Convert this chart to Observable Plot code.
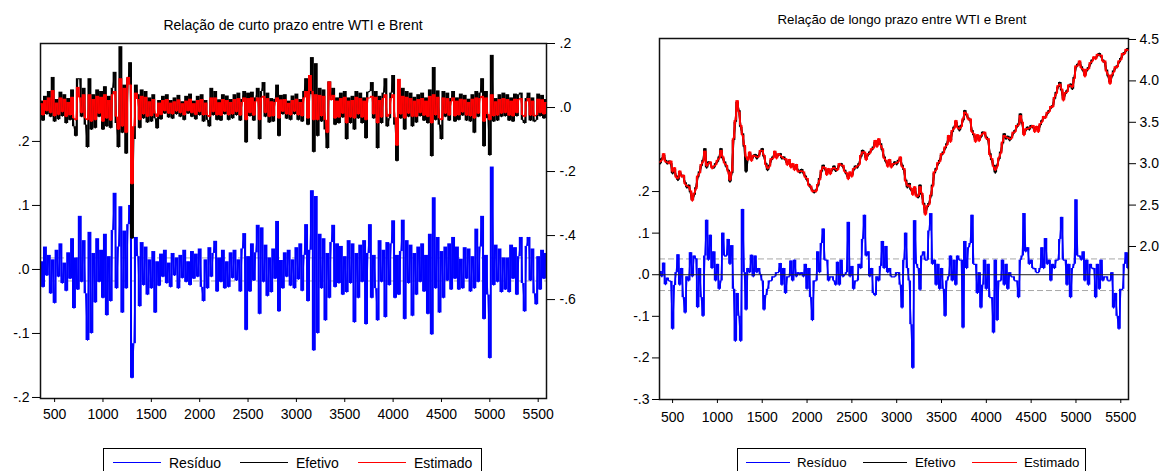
<!DOCTYPE html>
<html><head><meta charset="utf-8">
<script src="https://cdn.jsdelivr.net/npm/d3@7"></script>
<script src="https://cdn.jsdelivr.net/npm/@observablehq/plot@0.6"></script>
<style>
html,body{margin:0;padding:0;background:#fff;}
body{width:1162px;height:471px;overflow:hidden;position:relative;font-family:"Liberation Sans",Arial,sans-serif;color:#000;}
.title{position:absolute;white-space:nowrap;line-height:1;transform:translateX(-50%);}
.legend{position:absolute;border:1px solid #000;height:40px;box-sizing:border-box;background:#fff;}
.lgl{position:absolute;height:0;border-top:1.6px solid;}
.lgt{position:absolute;line-height:1;white-space:nowrap;}
svg{position:absolute;}
</style></head><body>
<script>
// ---------- DATA ----------
const obsStart = 360, obsStep = 20;          // observation index of first value and spacing
const xTicks = [500,1000,1500,2000,2500,3000,3500,4000,4500,5000,5500];
const xDomain = [354, 5586];

// Short-run panel
const shortTitle = "Relação de curto prazo entre WTI e Brent";
const shortResidTicks = [-0.2,-0.1,0,0.1,0.2];
const shortLevelTicks = [0.2,0,-0.2,-0.4,-0.6];
const shortBands = [-0.018, 0.018];
const shortResid = [
0.012,-0.028,0.035,-0.01,0.022,-0.038,0.015,-0.053,0.03,-0.012,0.04,-0.022,0.01,-0.034,0.026,-0.015,0.048,-0.061,0.018,-0.032,
0.083,-0.02,0.045,-0.038,-0.111,0.058,-0.10,0.025,-0.052,0.048,-0.02,0.03,-0.045,0.055,-0.072,0.02,-0.05,0.061,0.119,-0.03,
0.035,0.098,-0.068,0.06,-0.03,0.07,0.10,-0.170,-0.116,0.05,0.02,-0.058,0.042,-0.025,0.035,-0.04,0.015,-0.03,0.028,-0.068,
0.012,-0.026,0.024,-0.012,0.03,-0.022,0.01,-0.028,0.025,-0.01,0.018,-0.03,0.022,-0.014,0.03,-0.02,0.012,-0.025,0.028,-0.015,
0.024,-0.012,0.032,-0.028,-0.05,0.015,-0.03,0.034,-0.012,0.025,0.044,-0.035,0.018,-0.02,0.03,-0.03,0.012,-0.028,0.026,-0.014,
0.03,-0.018,0.015,-0.035,0.032,0.056,-0.095,0.02,-0.035,0.04,-0.018,0.026,0.069,-0.07,0.065,-0.02,0.038,-0.042,0.018,-0.036,
0.032,-0.015,0.075,-0.066,0.014,-0.03,0.026,-0.012,0.03,-0.026,0.015,-0.03,0.034,-0.016,0.04,-0.034,0.022,0.07,-0.05,0.03,
0.123,-0.127,0.114,-0.10,0.055,-0.03,0.048,-0.08,0.025,-0.045,0.042,0.069,-0.028,0.04,-0.022,0.036,-0.04,0.02,-0.036,0.045,
-0.022,0.04,-0.083,0.025,-0.045,0.038,-0.02,0.045,-0.086,0.025,0.07,-0.045,0.022,-0.03,-0.08,0.045,-0.02,0.03,-0.075,0.042,
-0.025,0.04,0.076,-0.045,0.022,-0.04,0.028,0.077,-0.078,0.045,-0.022,0.038,-0.073,0.025,-0.04,0.035,-0.02,0.04,-0.035,0.022,
-0.07,0.055,-0.102,0.112,-0.03,0.05,-0.068,0.028,-0.045,0.035,-0.018,0.04,-0.032,0.05,-0.015,0.035,-0.032,0.016,-0.03,0.034,
-0.015,0.032,-0.035,0.02,-0.03,0.063,-0.02,0.035,0.083,-0.078,0.022,-0.04,-0.139,0.16,-0.025,0.038,-0.02,0.032,-0.036,0.018,
-0.032,0.018,-0.036,0.038,-0.015,0.034,-0.04,0.02,0.05,-0.022,-0.066,0.036,0.05,-0.018,0.032,-0.038,-0.055,0.02,-0.032,0.03,-0.015,0.025];
const shortActual = [
0.02,-0.042,0.035,-0.022,0.05,-0.03,0.094,-0.045,0.025,-0.038,0.048,-0.028,0.04,-0.05,0.028,-0.04,0.055,-0.06,-0.09,0.09,
0.09,-0.03,0.06,-0.055,-0.125,0.09,-0.07,0.04,-0.065,0.055,-0.03,0.05,-0.07,0.065,-0.06,0.035,-0.065,0.06,0.11,-0.05,
-0.125,0.19,-0.08,0.07,-0.145,0.09,0.14,-0.41,-0.1,0.07,0.04,-0.065,0.055,-0.035,0.05,-0.048,0.03,-0.045,0.04,-0.035,
-0.066,0.022,-0.038,0.035,-0.02,0.04,-0.032,0.022,-0.036,0.03,-0.022,0.038,-0.03,0.018,-0.04,0.035,-0.02,0.042,-0.03,0.02,
-0.038,0.035,-0.025,0.04,-0.045,0.022,-0.04,-0.06,0.06,-0.025,0.05,-0.04,0.024,-0.042,0.04,-0.022,0.036,-0.04,0.025,-0.035,
0.04,-0.025,0.045,-0.042,0.025,0.05,-0.11,0.045,-0.028,0.048,-0.042,0.03,0.06,-0.1,0.05,0.078,-0.03,0.045,-0.048,0.028,
-0.045,0.025,0.07,-0.09,0.038,-0.022,0.04,-0.036,0.02,-0.04,0.036,-0.022,0.042,-0.04,0.025,-0.045,0.05,0.09,-0.055,0.04,
0.156,-0.14,0.137,-0.09,0.06,-0.045,0.055,-0.07,-0.128,0.08,0.035,0.06,-0.055,0.03,-0.05,0.045,-0.032,0.05,-0.1,0.03,
-0.05,0.035,-0.07,0.05,-0.035,0.045,-0.05,0.03,-0.097,0.048,0.05,0.078,-0.035,0.05,-0.128,0.035,-0.05,0.045,0.09,-0.06,
-0.035,0.045,0.1,-0.055,-0.168,0.055,-0.035,0.06,-0.07,0.05,-0.03,0.045,-0.06,0.032,-0.048,0.04,-0.028,0.045,-0.042,0.03,
-0.05,0.055,-0.153,0.125,-0.04,0.052,-0.055,-0.1,0.05,-0.03,0.045,-0.042,0.028,0.05,-0.045,0.03,-0.04,0.042,-0.026,0.038,
-0.042,0.026,-0.045,0.04,-0.08,0.05,-0.03,0.045,0.09,-0.122,0.05,-0.035,-0.15,0.163,-0.045,0.028,-0.042,0.04,-0.03,0.045,
-0.028,0.04,-0.042,0.03,-0.045,0.042,-0.028,0.04,0.045,-0.04,-0.05,0.028,0.045,-0.042,0.03,-0.045,-0.04,0.042,-0.028,0.038,-0.035,0.025];
const shortFitted = [
0.012,-0.025,0.022,-0.012,0.03,-0.018,0.053,-0.028,0.014,-0.024,0.03,-0.015,0.026,-0.03,0.016,-0.025,0.032,-0.035,-0.04,0.063,
0.03,-0.018,0.04,-0.035,-0.04,0.04,-0.045,0.025,-0.04,0.035,-0.02,0.032,-0.045,0.04,-0.035,0.022,-0.042,0.04,0.05,-0.03,
-0.07,0.09,-0.06,0.06,-0.08,0.094,0.07,-0.24,-0.06,0.045,0.025,-0.04,0.035,-0.022,0.032,-0.03,0.018,-0.028,0.025,-0.02,
-0.03,0.014,-0.024,0.022,-0.012,0.025,-0.02,0.014,-0.022,0.018,-0.013,0.024,-0.018,0.012,-0.025,0.02,-0.012,0.026,-0.018,0.012,
-0.024,0.022,-0.015,0.025,-0.025,0.014,-0.025,-0.03,0.03,-0.015,0.03,-0.025,0.015,-0.026,0.025,-0.014,0.022,-0.025,0.016,-0.022,
0.025,-0.015,0.028,-0.026,0.016,0.03,-0.04,0.028,-0.018,0.03,-0.026,0.018,0.03,-0.04,0.03,0.035,-0.018,0.028,-0.03,0.018,
-0.028,0.016,0.03,-0.035,0.024,-0.014,0.025,-0.022,0.013,-0.025,0.022,-0.014,0.026,-0.025,0.016,-0.028,0.03,0.05,-0.035,0.10,
0.05,-0.04,0.04,-0.04,0.038,-0.028,0.035,-0.04,-0.08,0.08,0.022,0.038,-0.035,0.02,-0.032,0.028,-0.02,0.032,-0.05,0.02,
-0.032,0.022,-0.035,0.032,-0.022,0.028,-0.032,0.02,-0.04,0.03,0.03,0.035,-0.022,0.032,-0.05,0.022,-0.032,0.028,0.04,-0.03,
-0.022,0.028,0.04,-0.032,-0.12,0.088,-0.022,0.035,-0.035,0.032,-0.02,0.028,-0.03,0.02,-0.03,0.025,-0.018,0.028,-0.026,0.02,
-0.03,0.035,-0.05,0.04,-0.025,0.032,-0.035,-0.04,0.03,-0.02,0.028,-0.026,0.018,0.03,-0.028,0.02,-0.025,0.026,-0.016,0.024,
-0.026,0.016,-0.028,0.026,-0.035,0.03,-0.02,0.028,0.035,-0.045,0.03,-0.022,-0.04,0.04,-0.028,0.018,-0.026,0.025,-0.02,0.028,
-0.018,0.025,-0.026,0.02,-0.028,0.026,-0.018,0.025,0.028,-0.025,-0.03,0.018,0.028,-0.026,0.02,-0.028,-0.025,0.026,-0.018,0.024,-0.022,0.016];

// Long-run panel
const longTitle = "Relação de longo prazo entre WTI e Brent";
const longResidTicks = [-0.3,-0.2,-0.1,0,0.1,0.2];
const longLevelTicks = [2.0,2.5,3.0,3.5,4.0,4.5];
const longBands = [-0.038, 0.038];
const longResid = [
0.008,-0.005,0.028,-0.024,-0.008,-0.015,-0.016,-0.131,-0.026,0.005,0.048,-0.025,0.015,-0.055,-0.092,-0.005,-0.015,0.053,-0.005,0.045,
0.038,-0.079,0.015,-0.055,-0.1,0.045,0.131,0.035,0.095,0.015,0.055,-0.015,0.025,-0.035,-0.015,0.1,0.045,0.045,0.085,0.025,
0.07,-0.035,-0.16,-0.045,-0.1,-0.16,0.157,0.005,-0.085,0.015,0.005,0.047,-0.005,0.045,0.005,0.015,0.0,-0.015,-0.085,-0.05,
-0.035,-0.015,-0.015,-0.005,-0.005,0.005,0.005,0.027,-0.025,0.015,-0.045,-0.005,-0.005,0.033,-0.015,0.035,-0.005,0.005,0.0,0.005,
-0.005,0.025,-0.035,0.015,-0.055,-0.11,-0.015,-0.015,0.055,0.005,0.075,0.11,0.035,0.035,-0.015,-0.005,-0.005,-0.015,-0.025,0.03,
-0.025,0.035,-0.005,0.0,0.005,0.126,-0.005,0.02,-0.035,-0.015,-0.015,0.025,0.015,0.085,0.143,0.045,0.055,-0.005,0.015,-0.045,
-0.05,-0.005,-0.015,0.02,0.08,0.015,0.068,0.005,0.015,-0.005,-0.005,-0.005,0.005,0.005,-0.025,-0.08,0.035,0.1,0.015,-0.015,
-0.12,-0.225,0.13,0.025,0.015,-0.037,0.045,0.055,0.035,0.035,0.105,0.147,0.025,0.035,-0.025,0.025,-0.035,0.015,-0.035,-0.1,
-0.015,-0.005,0.045,-0.015,0.035,-0.025,0.045,0.035,0.035,-0.128,0.08,0.015,0.065,0.075,0.143,0.025,0.025,-0.045,0.005,-0.08,
-0.025,0.035,-0.035,0.025,-0.055,-0.055,-0.14,0.035,-0.11,-0.015,-0.015,0.035,-0.025,0.025,-0.035,0.005,-0.005,-0.005,-0.015,-0.015,
-0.055,0.035,0.045,0.147,0.055,0.065,0.025,0.035,0.015,0.015,0.005,0.005,0.015,0.065,0.015,0.087,0.025,0.035,-0.015,0.025,
0.015,0.035,0.035,0.085,0.138,0.035,0.035,-0.025,0.025,-0.055,0.015,0.025,0.18,0.045,0.045,0.035,0.055,-0.015,0.035,-0.025,
0.025,0.015,0.015,-0.055,0.025,-0.035,0.035,-0.015,-0.005,-0.005,-0.015,-0.015,0.005,-0.08,-0.045,-0.1,-0.131,-0.035,-0.035,0.025,0.053,0.015];
const longActual = [
3.00,3.06,3.10,3.04,3.00,3.03,3.00,2.88,2.93,2.85,2.80,2.89,2.86,2.84,2.77,2.71,2.74,2.65,2.56,2.62,
2.71,2.83,2.90,2.97,3.04,3.18,2.95,3.02,3.00,2.96,2.95,3.00,3.02,3.08,3.18,3.06,3.02,2.96,2.92,2.78,
2.88,3.28,3.50,3.74,3.64,3.44,3.36,3.20,2.90,3.06,3.12,3.05,3.08,3.11,3.06,3.10,3.14,3.18,3.08,3.00,
2.92,2.98,3.04,3.08,3.13,3.08,3.10,3.12,3.06,3.08,3.04,3.00,3.03,2.97,2.98,2.94,2.97,2.92,2.89,2.93,
2.88,2.85,2.80,2.75,2.71,2.68,2.65,2.68,2.73,2.82,2.90,2.98,2.93,2.88,2.92,2.89,2.92,2.97,2.91,2.94,
2.98,3.00,2.96,2.92,2.87,2.83,2.88,2.86,2.92,2.97,2.95,3.00,3.08,3.16,3.12,3.06,3.10,3.14,3.16,3.20,
3.26,3.22,3.28,3.24,3.16,3.08,3.02,2.98,3.03,2.97,2.98,3.02,2.99,3.04,3.06,2.98,2.92,2.80,2.71,2.76,
2.68,2.64,2.70,2.62,2.59,2.74,2.62,2.52,2.40,2.47,2.52,2.60,2.74,2.88,2.94,2.99,3.04,3.10,3.14,3.18,
3.24,3.32,3.28,3.38,3.44,3.50,3.45,3.40,3.46,3.52,3.64,3.58,3.55,3.52,3.40,3.34,3.28,3.33,3.29,3.32,
3.38,3.36,3.32,3.28,3.12,3.04,2.98,2.89,2.98,3.05,3.14,3.24,3.36,3.30,3.33,3.28,3.32,3.36,3.40,3.44,
3.48,3.60,3.48,3.36,3.40,3.44,3.41,3.46,3.44,3.40,3.43,3.40,3.46,3.52,3.55,3.57,3.60,3.64,3.67,3.70,
3.78,3.86,3.92,3.98,3.88,3.78,3.84,3.88,3.93,3.96,3.90,4.04,4.16,4.20,4.22,4.17,4.12,4.07,4.12,4.16,
4.20,4.25,4.27,4.28,4.30,4.33,4.29,4.25,4.22,4.13,4.05,3.98,4.05,4.12,4.15,4.18,4.22,4.27,4.31,4.34,4.36,4.39];
const longFitted = [
3.02,3.04,3.12,3.02,3.02,3.00,3.03,2.90,2.95,2.83,2.82,2.91,2.84,2.86,2.75,2.73,2.72,2.67,2.55,2.64,
2.69,2.85,2.88,2.99,3.02,3.15,2.97,3.00,3.02,2.94,2.97,2.98,3.04,3.06,3.16,3.08,3.00,2.98,2.90,2.80,
2.90,3.30,3.52,3.76,3.62,3.46,3.34,3.22,3.08,3.04,3.14,3.03,3.10,3.09,3.08,3.08,3.16,3.16,3.10,2.98,
2.94,2.96,3.06,3.06,3.15,3.06,3.12,3.10,3.08,3.06,3.06,2.98,3.05,2.95,3.00,2.92,2.99,2.90,2.91,2.91,
2.90,2.83,2.82,2.73,2.73,2.66,2.67,2.66,2.75,2.80,2.92,2.96,2.95,2.86,2.94,2.87,2.94,2.95,2.93,2.92,
3.00,2.98,2.98,2.90,2.89,2.81,2.90,2.84,2.94,2.95,2.97,2.98,3.10,3.14,3.14,3.04,3.12,3.12,3.18,3.18,
3.28,3.20,3.30,3.22,3.18,3.06,3.04,2.96,3.05,2.95,3.00,3.00,3.01,3.02,3.08,2.96,2.94,2.78,2.73,2.74,
2.70,2.62,2.72,2.60,2.61,2.72,2.64,2.50,2.38,2.49,2.50,2.62,2.72,2.90,2.92,3.01,3.02,3.12,3.12,3.20,
3.22,3.34,3.26,3.40,3.42,3.52,3.43,3.42,3.44,3.54,3.62,3.60,3.53,3.54,3.38,3.36,3.26,3.35,3.27,3.34,
3.36,3.38,3.30,3.30,3.10,3.06,2.96,2.92,2.96,3.07,3.12,3.26,3.34,3.32,3.31,3.30,3.30,3.38,3.38,3.46,
3.46,3.58,3.50,3.34,3.42,3.42,3.43,3.44,3.46,3.38,3.45,3.38,3.48,3.50,3.57,3.55,3.62,3.62,3.69,3.68,
3.80,3.84,3.94,3.96,3.90,3.76,3.86,3.86,3.95,3.94,3.92,4.02,4.18,4.18,4.24,4.15,4.14,4.05,4.14,4.14,
4.22,4.23,4.29,4.26,4.32,4.31,4.31,4.23,4.24,4.11,4.07,3.96,4.07,4.10,4.17,4.16,4.24,4.25,4.33,4.32,4.38,4.37];

const legendLabels = ["Resíduo", "Efetivo", "Estimado"];
const seriesColors = ["#0000ff", "#000000", "#ff0000"];

// ---------- HELPERS ----------
const obsOf = arr => arr.map((_, i) => obsStart + i * obsStep);
const fmtDot = v => { const s = (Math.round(v * 10) / 10).toFixed(1); return s.replace(/^(-?)0\./, "$1."); };
const fmt1 = d3.format(".1f");
const FONT = '"Liberation Sans", Arial, sans-serif';

function place(svg, left, top) {
  svg.style.left = left + "px"; svg.style.top = top + "px";
  document.body.appendChild(svg);
}
// a dense series: the line itself plus the vertical span covered between consecutive observations
function dense(arr, color, w, lw = 1) {
  const obs = obsOf(arr);
  const idx = arr.slice(0, -1).map((_, i) => i);
  return [
    Plot.ruleX(idx, {x: i => (obs[i] + obs[i + 1]) / 2, y1: i => arr[i], y2: i => arr[i + 1], stroke: color, strokeWidth: w}),
    Plot.line(arr, {x: obs, y: arr, stroke: color, strokeWidth: lw})
  ];
}

// ---------- SHORT-RUN PANEL ----------
const sW = 600, sH = 440;
const sMargins = {marginLeft: 40, marginRight: 54, marginTop: 43, marginBottom: 42};
place(Plot.plot({
  width: sW, height: sH, ...sMargins,
  style: {fontSize: "14px", fontFamily: FONT, color: "#000", background: "transparent", overflow: "visible"},
  x: {domain: xDomain, axis: null}, y: {domain: [-0.2016, 0.353], axis: null},
  marks: [
    Plot.ruleY(shortBands, {stroke: "#a8a8a8", strokeDasharray: "6,3"}),
    dense(shortResid, seriesColors[0], 2),
    Plot.frame({stroke: "#111", strokeWidth: 1.5}),
    Plot.axisY({ticks: shortResidTicks, tickFormat: fmtDot, tickSize: 8, tickPadding: 3, label: null}),
    Plot.axisX({ticks: xTicks, tickFormat: d => String(d), tickSize: 4, tickPadding: 7, label: null})
  ]
}), 0, 0);
place(Plot.plot({
  width: sW, height: sH, ...sMargins,
  style: {fontSize: "14px", fontFamily: FONT, color: "#000", background: "transparent", overflow: "visible"},
  x: {domain: xDomain, axis: null}, y: {domain: [-0.909, 0.2], axis: null},
  marks: [
    dense(shortActual, seriesColors[1], 2),
    dense(shortFitted, seriesColors[2], 2),
    Plot.axisY({anchor: "right", ticks: shortLevelTicks, tickFormat: fmtDot, tickSize: 8, tickPadding: 5, label: null})
  ]
}), 0, 0);

// ---------- LONG-RUN PANEL ----------
const lW = 562, lH = 440, lLeft = 600;
const lMargins = {marginLeft: 59, marginRight: 34, marginTop: 38, marginBottom: 41};
place(Plot.plot({
  width: lW, height: lH, ...lMargins,
  style: {fontSize: "14px", fontFamily: FONT, color: "#000", background: "transparent", overflow: "visible"},
  x: {domain: xDomain, axis: null}, y: {domain: [-0.3, 0.568], axis: null},
  marks: [
    Plot.ruleY(longBands, {stroke: "#a8a8a8", strokeDasharray: "6,3"}),
    dense(longResid, seriesColors[0], 1.8, 1.3),
    Plot.ruleY([0], {stroke: "#222", strokeWidth: 1}),
    Plot.frame({stroke: "#111", strokeWidth: 1.5}),
    Plot.axisY({ticks: longResidTicks, tickFormat: fmtDot, tickSize: 7, tickPadding: 3, label: null}),
    Plot.axisX({ticks: xTicks, tickFormat: d => String(d), tickSize: 4, tickPadding: 9, label: null})
  ]
}), lLeft, 0);
place(Plot.plot({
  width: lW, height: lH, ...lMargins,
  style: {fontSize: "14px", fontFamily: FONT, color: "#000", background: "transparent", overflow: "visible"},
  x: {domain: xDomain, axis: null}, y: {domain: [0.152, 4.512], axis: null},
  marks: [
    dense(longActual, seriesColors[1], 1.8, 1.8),
    dense(longFitted, seriesColors[2], 1.8, 1.6),
    Plot.axisY({anchor: "right", ticks: longLevelTicks, tickFormat: fmt1, tickSize: 7, tickPadding: 4, label: null})
  ]
}), lLeft, 0);

// ---------- TITLES & LEGENDS ----------
function addDiv(cls, css, text) {
  const d = document.createElement("div");
  d.className = cls; Object.assign(d.style, css);
  if (text != null) d.textContent = text;
  document.body.appendChild(d);
  return d;
}
addDiv("title", {left: "293px", top: "18px", fontSize: "14px"}, shortTitle);
addDiv("title", {left: "902px", top: "13px", fontSize: "13.3px"}, longTitle);

function legend(box, items, fs, textTop) {
  addDiv("legend", {left: box.left + "px", top: box.top + "px", width: box.width + "px"});
  items.forEach((it, k) => {
    addDiv("lgl", {left: it.x0 + "px", top: it.y + "px", width: (it.x1 - it.x0) + "px", borderTopColor: seriesColors[k]});
    addDiv("lgt", {left: it.tx + "px", top: textTop + "px", fontSize: fs}, legendLabels[k]);
  });
}
legend({left: 103, top: 448, width: 379},
  [{x0: 113, x1: 161, y: 462, tx: 169}, {x0: 240, x1: 288, y: 462, tx: 296}, {x0: 358, x1: 406, y: 462, tx: 414}],
  "14px", 455.5);
legend({left: 737, top: 448, width: 349},
  [{x0: 746, x1: 790, y: 461.5, tx: 797}, {x0: 863, x1: 907, y: 461.5, tx: 915}, {x0: 972, x1: 1017, y: 461.5, tx: 1024}],
  "13.3px", 455.5);
</script>
</body></html>
